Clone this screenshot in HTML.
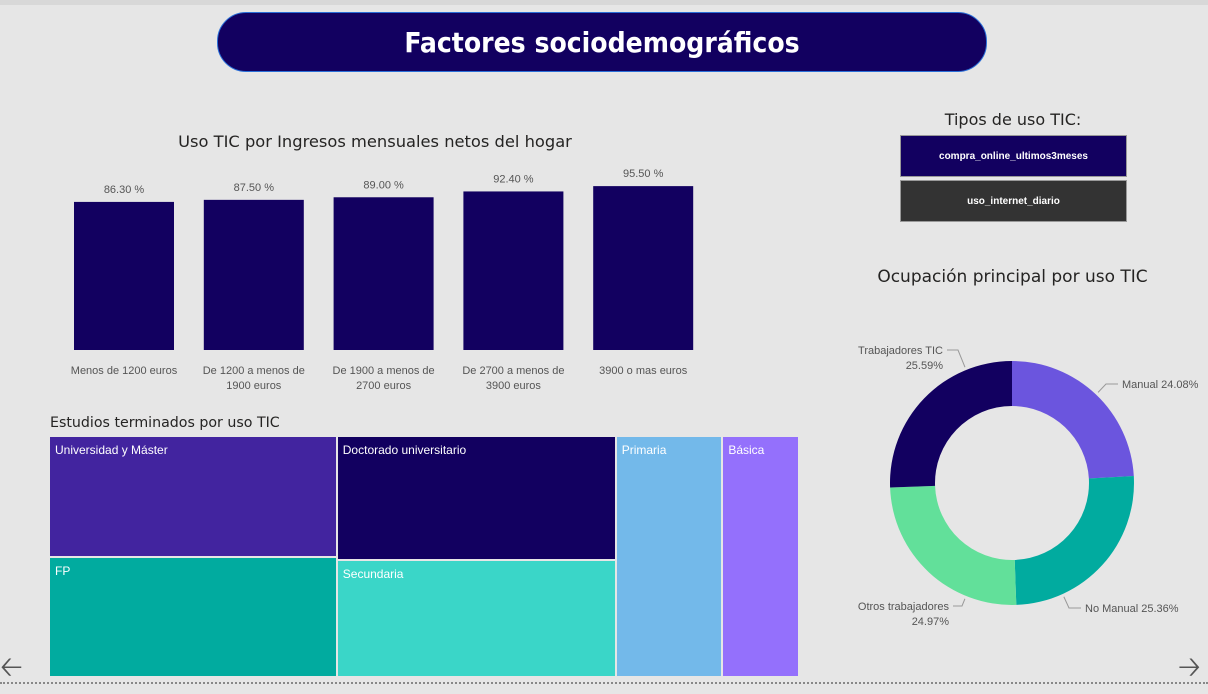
<!DOCTYPE html>
<html><head><meta charset="utf-8"><style>
body{margin:0;width:1208px;height:686px;background:#e6e6e6;font-family:"Liberation Sans","DejaVu Sans",sans-serif;position:relative;overflow:hidden}
.abs{position:absolute}
.t{color:#252423}
</style></head><body>
<div class="abs" style="left:0;top:0;width:1208px;height:5px;background:#d8d8d8"></div>
<div class="abs" style="left:217px;top:12px;width:768px;height:58px;background:#120060;border:1px solid #2a6fd8;border-radius:29px;color:#fff;font-family:'DejaVu Sans Condensed','DejaVu Sans',sans-serif;font-weight:bold;font-size:28px;line-height:60px;text-align:center">Factores sociodemográficos</div>

<div class="abs t" style="left:60px;top:132px;width:630px;text-align:center;font-family:'DejaVu Sans',sans-serif;font-size:16.3px">Uso TIC por Ingresos mensuales netos del hogar</div>
<svg class="abs" style="left:0;top:0" width="760" height="400" id="bars"></svg>

<div class="abs t" style="left:50px;top:415px;font-family:'DejaVu Sans',sans-serif;font-size:14.2px">Estudios terminados por uso TIC</div>
<div id="tree"></div>

<div class="abs t" style="left:900px;top:110px;width:226px;text-align:center;font-family:'DejaVu Sans',sans-serif;font-size:16px">Tipos de uso TIC:</div>
<div class="abs" style="left:900px;top:135px;width:225px;height:40px;background:#120060;border:1px solid #999;color:#fff;font-size:10px;font-weight:bold;line-height:42px;text-align:center">compra_online_ultimos3meses</div>
<div class="abs" style="left:900px;top:180px;width:225px;height:40px;background:#333;border:1px solid #999;color:#fff;font-size:10px;font-weight:bold;line-height:42px;text-align:center">uso_internet_diario</div>

<div class="abs t" style="left:850px;top:267px;width:325px;text-align:center;font-family:'DejaVu Sans',sans-serif;font-size:17px">Ocupación principal por uso TIC</div>
<svg class="abs" style="left:820px;top:330px" width="388" height="300" id="donut"></svg>

<div class="abs" style="left:0;top:646px;font-size:28px;color:#555">&#129120;</div>
<div class="abs" style="left:1178px;top:646px;font-size:28px;color:#555">&#129122;</div>
<div class="abs" style="left:0;top:682px;width:1208px;border-top:2px dotted #888"></div>

<script>
const NS="http://www.w3.org/2000/svg";
const barCats=[["Menos de 1200 euros"],["De 1200 a menos de","1900 euros"],["De 1900 a menos de","2700 euros"],["De 2700 a menos de","3900 euros"],["3900 o mas euros"]];
const barVals=[86.3,87.5,89.0,92.4,95.5];
const barLabels=["86.30 %","87.50 %","89.00 %","92.40 %","95.50 %"];
const donutCats=["Manual","No Manual","Otros trabajadores","Trabajadores TIC"];
const donutVals=[24.08,25.36,24.97,25.59];
const treeCats=["Universidad y Máster","FP","Doctorado universitario","Secundaria","Primaria","Básica"];
const treeVals=[34.3,34.0,34.1,32.1,25.3,18.2];

function el(p,t,a){const e=document.createElementNS(NS,t);for(const k in a)e.setAttribute(k,a[k]);p.appendChild(e);return e;}
// bars
const bs=document.getElementById('bars');
const base=350,k=1.716,x0=74,step=129.8,bw=100;
const yS=v=>base-v*k;
barVals.forEach((v,i)=>{
  const x=x0+i*step;
  const r=el(bs,'rect',{x:x,y:yS(v),width:bw,height:base-yS(v),fill:'#120060'});
  
  
  const t=el(bs,'text',{x:x+bw/2,y:yS(v)-9,'text-anchor':'middle','font-size':11,fill:'#555','font-family':'Liberation Sans, sans-serif'});
  t.textContent=barLabels[i];
  
  
  barCats[i].forEach((ln,j)=>{
    const c=el(bs,'text',{x:x+bw/2,y:374+j*15,'text-anchor':'middle','font-size':11,fill:'#555','font-family':'Liberation Sans, sans-serif'});
    c.textContent=ln;
    
    
  });
});
// treemap
const tr=document.getElementById('tree');
const treeCols=['#42249F','#01AB9F','#120060','#3AD6C8','#73B9EA','#9470FC'];
const TX=50,TY=437,TW=750,TH=241;
const tot=treeVals.reduce((a,b)=>a+b,0);
const groups=[[0,1],[2,3],[4],[5]];
let cx=TX;
groups.forEach(g=>{
  const gs=g.reduce((a,i)=>a+treeVals[i],0);
  const w=TW*gs/tot;
  let cy=TY;
  g.forEach(i=>{
    const h=TH*treeVals[i]/gs;
    const d=document.createElement('div');
    d.className='abs';
    d.style.cssText=`left:${cx}px;top:${cy}px;width:${w-2}px;height:${h-2}px;background:${treeCols[i]};color:#fff;font-size:12px;box-sizing:border-box`;
    d.innerHTML=`<div style="margin:6px 0 0 5px">${treeCats[i]}</div>`;
    
    
    tr.appendChild(d);
    cy+=h;
  });
  cx+=w;
});
// donut (svg offset 820,330)
const dn=document.getElementById('donut');
const dcx=192,dcy=153,R=122,r0=77;
const dcols=['#6B55DE','#01AB9F','#62E09A','#120060'];
const dsum=donutVals.reduce((a,b)=>a+b,0);
let ang=0;
// label anchor x, text-anchor, baseline y, elbow x, line start radius offset
const labelPos=[[302,'start',58,286],[265,'start',282,249],[129,'end',280,142],[123,'end',24,138]];
donutVals.forEach((v,i)=>{
  const a0=ang,a1=ang+v/dsum*2*Math.PI;ang=a1;
  const P=(rr,a)=>[dcx+rr*Math.sin(a),dcy-rr*Math.cos(a)];
  const [x1,y1]=P(R,a0),[x2,y2]=P(R,a1),[x3,y3]=P(r0,a1),[x4,y4]=P(r0,a0);
  const lg=(a1-a0)>Math.PI?1:0;
  const p=el(dn,'path',{d:`M${x1},${y1}A${R},${R} 0 ${lg} 1 ${x2},${y2}L${x3},${y3}A${r0},${r0} 0 ${lg} 0 ${x4},${y4}Z`,fill:dcols[i]});
  
  
  const lp=labelPos[i];
  const ly2=lp[2]-4;
  // point on outer ring toward elbow
  const am=Math.atan2(lp[3]-dcx,-(ly2-dcy));
  const [lx,ly]=P(R+3,am);
  const lines=i>=2?[donutCats[i],v.toFixed(2)+'%']:[donutCats[i]+' '+v.toFixed(2)+'%'];
  const ex=lp[1]==='start'?lp[0]-4:lp[0]+4;
  el(dn,'polyline',{points:`${lx},${ly} ${lp[3]},${ly2} ${ex},${ly2}`,fill:'none',stroke:'#999','stroke-width':1});
  lines.forEach((s,j)=>{
    const t=el(dn,'text',{x:lp[0],y:lp[2]+j*15,'text-anchor':lp[1],'font-size':11,fill:'#555','font-family':'Liberation Sans, sans-serif'});
    t.textContent=s;
    
    
  });
});
</script>
</body></html>
